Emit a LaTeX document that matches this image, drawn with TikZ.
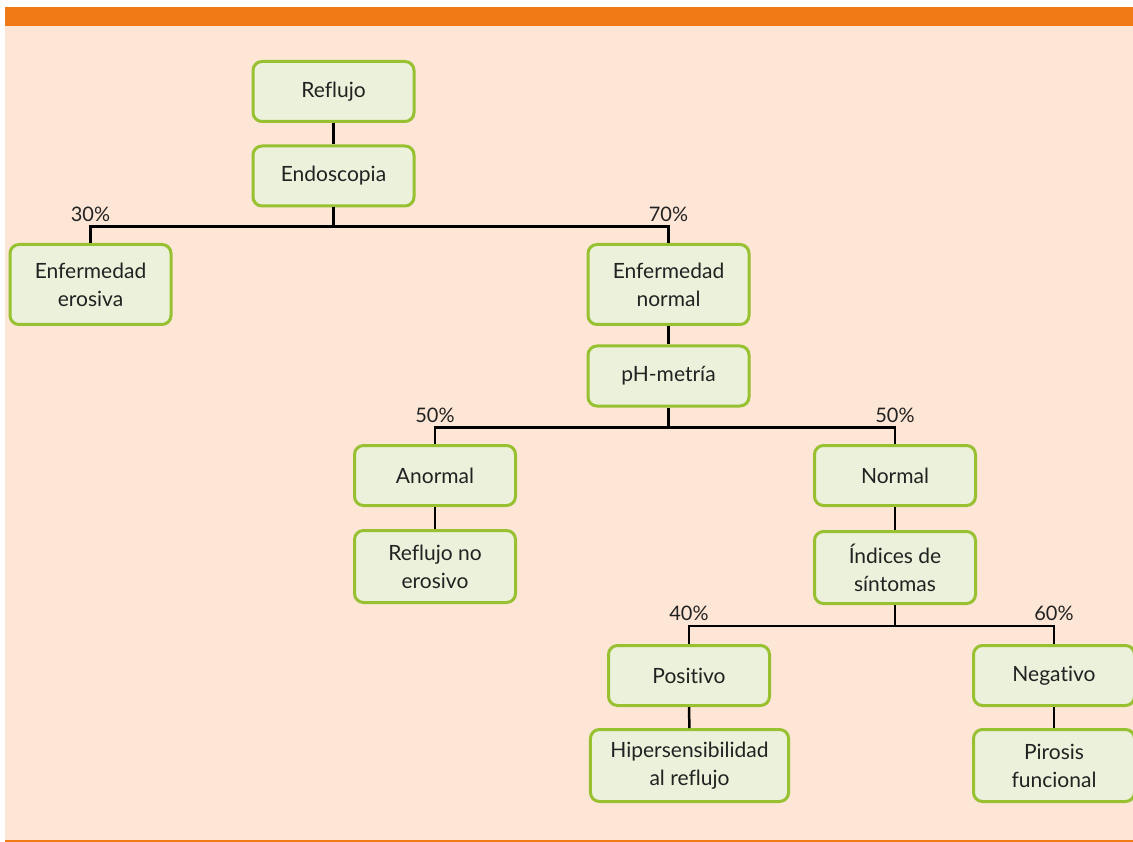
\documentclass[tikz,border=0pt]{standalone}
\usepackage{fontspec}
\setmainfont{Lato}[Ligatures=NoCommon]

\definecolor{barorange}{HTML}{F07A16}
\definecolor{peach}{HTML}{FDE6D6}
\definecolor{boxfill}{HTML}{EBF1DA}
\definecolor{boxgreen}{HTML}{98C132}
\definecolor{ink}{HTML}{222222}

\tikzset{
  box/.style={draw=boxgreen, fill=boxfill, line width=3pt, rounded corners=9pt,
    minimum width=161pt, minimum height=60pt, inner xsep=20pt, align=center,
    text=ink, font=\fontsize{21}{28}\selectfont},
  twoline/.style={box, minimum height=72pt},
  link/.style={line width=2.5pt, black},
  pct/.style={above, inner sep=4pt, text=ink, font=\fontsize{20}{22}\selectfont}
}

\begin{document}
\begin{tikzpicture}[x=1pt, y=-1pt]
  \useasboundingbox (0,0) rectangle (1133,842);
  % background and frame
  \fill[peach] (5,26) rectangle (1133,840);
  \fill[barorange] (5,7) rectangle (1133,26);
  \fill[barorange] (5,840) rectangle (1133,842);

  % nodes
  \node[box] (reflujo) at (333.5,91.5) {Reflujo};
  \node[box] (endo) at (333.5,176) {Endoscopia};
  \node[twoline, minimum height=80pt] (erosiva) at (90.5,284.5) {Enfermedad\\erosiva};
  \node[twoline, minimum height=80pt] (enfnormal) at (668.5,284.5) {Enfermedad\\normal};
  \node[box] (ph) at (668.5,376) {pH-metría};
  \node[box] (anormal) at (435,475.5) {Anormal};
  \node[twoline] (noerosivo) at (435,566.5) {Reflujo no\\erosivo};
  \node[box] (normal) at (895,475.5) {Normal};
  \node[twoline] (indices) at (895,567.5) {Índices de\\síntomas};
  \node[box] (positivo) at (689,675.5) {Positivo};
  \node[twoline] (hiper) at (689.5,765.5) {Hipersensibilidad\\al reflujo};
  \node[box] (negativo) at (1054,675.5) {Negativo};
  \node[twoline] (pirosis) at (1054,765.5) {Pirosis\\funcional};

  % connectors
  \draw[link] (reflujo) -- (endo);
  \draw[link] (endo.south) -- ++(0,19) -| (erosiva.north) node[pct, pos=0.5] {30\%};
  \draw[link] (endo.south) -- ++(0,19) -| (enfnormal.north) node[pct, pos=0.5] {70\%};
  \draw[link] (enfnormal) -- (ph);
  \draw[link] (ph.south) -- ++(0,20) -| (anormal.north) node[pct, pos=0.5] {50\%};
  \draw[link] (ph.south) -- ++(0,20) -| (normal.north) node[pct, pos=0.5] {50\%};
  \draw[link] (anormal) -- (noerosivo);
  \draw[link] (normal) -- (indices);
  \draw[link] (indices.south) -- ++(0,21) -| (positivo.north) node[pct, pos=0.5] {40\%};
  \draw[link] (indices.south) -- ++(0,21) -| (negativo.north) node[pct, pos=0.5] {60\%};
  \draw[link] (positivo) -- (hiper);
  \draw[link] (negativo) -- (pirosis);
\end{tikzpicture}
\end{document}
